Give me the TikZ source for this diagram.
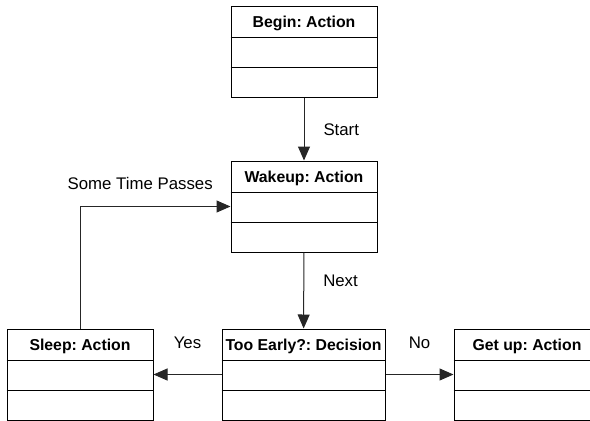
\documentclass[tikz,border=0pt]{standalone}
\usepackage{fontspec}
\setmainfont{Liberation Sans}
\usetikzlibrary{arrows.meta,calc,positioning}
\frenchspacing

\tikzset{
  statebox/.style={draw, line width=1pt, minimum width=146pt, minimum height=91pt, inner sep=0pt},
  statetitle/.style={inner sep=0pt, anchor=base, font=\fontsize{15.8}{19}\selectfont\bfseries},
  divider/.style={line width=1pt},
  flow/.style={draw=black!85, line width=1pt, -{Triangle[length=14pt,width=12pt]}},
  side label/.style={inner sep=0pt, anchor=base west, xshift=19pt, font=\fontsize{16.8}{20}\selectfont},
  over label/.style={inner sep=0pt, anchor=base, font=\fontsize{16.8}{20}\selectfont},
}

% box with a title and two empty compartments
\newcommand{\statenode}[4][]{%
  \node[statebox,#1] (#2) at (#3) {};
  \node[statetitle] (#2 title) at ($(#2.north)+(0,22)$) {#4};
  \draw[divider] ($(#2.north west)+(0,31.5)$) -- ($(#2.north east)+(0,31.5)$);
  \draw[divider] ($(#2.north west)+(0,61.5)$) -- ($(#2.north east)+(0,61.5)$);
}

\begin{document}
\begin{tikzpicture}[x=1pt, y=-1pt]
  \clip (0,0) rectangle (590,421);

  \statenode{begin}{304,51.5}{Begin: Action}
  \statenode{wakeup}{304,206.5}{Wakeup: Action}
  \statenode{sleep}{80,374.5}{Sleep: Action}
  \statenode[minimum width=163pt]{early}{303.5,374.5}{Too Early?: Decision}
  \statenode{getup}{527,374.5}{Get up: Action}

  \draw[flow] (begin) -- (wakeup) node[side label, pos=.6] {Start};
  \draw[flow] (wakeup) -- (early) node[side label, pos=.45] {Next};
  \draw[flow] (early) -- (sleep) node[over label, midway, yshift=26.2pt] {Yes};
  \draw[flow] (early) -- (getup) node[over label, midway, yshift=26.2pt] {No};
  \draw[flow] (sleep.north) |- (wakeup.west)
    node[over label, pos=.7, yshift=17.2pt] {Some Time Passes};
\end{tikzpicture}
\end{document}
